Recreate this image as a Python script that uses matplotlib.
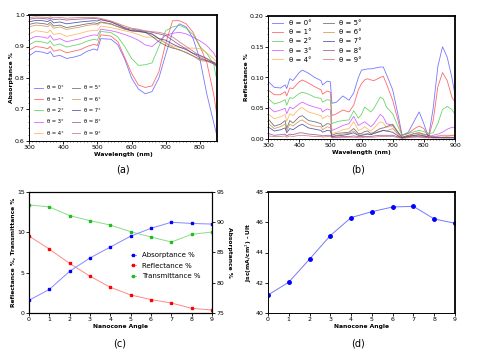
import matplotlib
matplotlib.use("Agg")
import matplotlib.pyplot as plt
from matplotlib.ticker import MultipleLocator

# ---------------- data ----------------
angles = [0, 1, 2, 3, 4, 5, 6, 7, 8, 9]
labels_theta = [f"θ = {a}°" for a in angles]
couleurs = ["#5555ff", "#ff4444", "#44cc44", "#cc44ff", "#ffaa44",
            "#555555", "#cc8844", "#333399", "#884488", "#cc6666"]

wl_a = [300, 320, 340, 355, 362, 372, 390, 410, 430, 450, 470, 490, 500, 510, 540, 560,
        580, 600, 620, 640, 660, 680, 700, 720, 740, 760, 780, 800, 820, 840, 850]
abs_0 = [.870, .885, .882, .877, .884, .868, .872, .862, .866, .872, .885, .892, .888, .925, .923, .905,
         .860, .800, .765, .750, .757, .800, .875, .945, .972, .962, .925, .860, .750, .660, .615]
abs_1 = [.888, .900, .897, .893, .900, .885, .890, .880, .885, .890, .900, .907, .903, .937, .933, .915,
         .865, .815, .778, .770, .775, .820, .910, .982, .982, .972, .945, .900, .850, .750, .680]
abs_2 = [.905, .917, .914, .910, .918, .903, .908, .898, .903, .908, .917, .923, .920, .948, .944, .930,
         .900, .862, .840, .842, .848, .900, .950, .962, .967, .958, .938, .900, .878, .845, .790]
abs_3 = [.922, .932, .930, .926, .935, .920, .925, .915, .920, .925, .932, .937, .935, .955, .950, .945,
         .938, .930, .920, .905, .900, .918, .935, .942, .945, .940, .930, .918, .903, .880, .860]
abs_4 = [.940, .950, .947, .944, .952, .938, .942, .932, .937, .942, .948, .952, .950, .965, .960, .955,
         .950, .945, .938, .930, .930, .925, .912, .902, .897, .895, .895, .893, .880, .862, .850]
abs_5 = [.970, .975, .973, .970, .977, .965, .968, .960, .964, .968, .972, .975, .973, .978, .972, .963,
         .955, .950, .950, .945, .932, .915, .903, .895, .890, .880, .870, .860, .855, .850, .845]
abs_6 = [.962, .968, .966, .963, .970, .958, .962, .954, .958, .962, .967, .970, .968, .976, .970, .963,
         .956, .950, .947, .944, .938, .925, .910, .898, .888, .882, .870, .855, .853, .846, .840]
abs_7 = [.978, .983, .982, .979, .985, .975, .978, .972, .975, .978, .980, .982, .981, .985, .978, .968,
         .958, .950, .948, .945, .940, .925, .920, .908, .898, .890, .878, .872, .862, .848, .840]
abs_8 = [.986, .990, .989, .987, .990, .985, .987, .984, .986, .987, .988, .989, .988, .986, .978, .970,
         .960, .955, .952, .948, .945, .940, .935, .920, .905, .892, .878, .865, .855, .845, .835]
abs_9 = [.992, .994, .993, .992, .994, .991, .992, .990, .991, .992, .992, .992, .991, .989, .981, .973,
         .965, .958, .955, .950, .947, .945, .940, .930, .915, .900, .885, .870, .860, .850, .840]
absorptance = [abs_0, abs_1, abs_2, abs_3, abs_4, abs_5, abs_6, abs_7, abs_8, abs_9]

wl_b = [300, 320, 340, 355, 360, 370, 380, 400, 410, 430, 450, 470, 475, 490, 500, 505, 520, 540,
        560, 575, 590, 600, 610, 620, 630, 640, 660, 670, 680, 700, 720, 730, 750, 770, 785, 800,
        815, 830, 845, 860, 875, 890, 900]
ref_0 = [.094, .084, .083, .088, .082, .098, .095, .108, .112, .107, .100, .095, .088, .094, .093, .058, .060, .070,
         .063, .075, .100, .112, .113, .114, .114, .115, .117, .117, .105, .080, .033, .006, .011, .030, .044, .025,
         .003, .050, .118, .150, .133, .100, .072]
ref_1 = [.080, .072, .072, .077, .070, .083, .082, .093, .096, .091, .085, .080, .073, .078, .076, .038, .041, .047,
         .044, .055, .080, .090, .096, .098, .096, .095, .100, .102, .090, .063, .025, .006, .009, .017, .021, .017,
         .003, .030, .085, .108, .095, .068, .060]
ref_2 = [.066, .057, .060, .064, .055, .067, .066, .074, .076, .073, .068, .066, .060, .064, .063, .025, .028, .030,
         .031, .046, .034, .040, .052, .048, .044, .050, .068, .065, .052, .041, .017, .006, .009, .012, .014, .012,
         .009, .010, .025, .048, .053, .048, .040]
ref_3 = [.053, .044, .047, .050, .041, .052, .049, .057, .060, .055, .052, .049, .044, .049, .047, .014, .017, .022,
         .025, .037, .022, .025, .028, .024, .020, .025, .040, .036, .025, .022, .009, .003, .005, .006, .006, .004,
         .004, .006, .008, .011, .016, .019, .019]
ref_4 = [.041, .033, .036, .040, .029, .041, .038, .049, .051, .044, .041, .038, .033, .038, .036, .009, .011, .015,
         .017, .028, .014, .016, .020, .016, .013, .018, .028, .026, .019, .021, .006, .002, .004, .006, .006, .004,
         .003, .003, .003, .003, .004, .006, .006]
ref_5 = [.033, .021, .024, .030, .017, .030, .026, .036, .038, .030, .028, .025, .020, .025, .024, .006, .009, .010,
         .011, .017, .009, .009, .012, .013, .009, .011, .017, .018, .020, .024, .009, .003, .006, .009, .010, .008,
         .006, .003, .003, .002, .002, .002, .002]
ref_6 = [.026, .017, .020, .024, .013, .024, .021, .029, .031, .024, .021, .020, .015, .020, .018, .004, .006, .008,
         .009, .013, .007, .006, .008, .009, .007, .010, .013, .014, .013, .017, .006, .002, .005, .009, .010, .006,
         .004, .003, .003, .003, .003, .003, .003]
ref_7 = [.020, .013, .015, .018, .010, .017, .015, .022, .024, .018, .016, .014, .011, .014, .013, .004, .005, .006,
         .008, .010, .006, .006, .007, .008, .007, .009, .012, .014, .013, .011, .004, .002, .004, .006, .007, .005,
         .003, .002, .002, .002, .002, .002, .002]
ref_8 = [.009, .006, .007, .008, .005, .008, .007, .010, .010, .008, .007, .006, .005, .006, .006, .003, .003, .004,
         .004, .005, .004, .004, .004, .004, .004, .005, .006, .006, .006, .006, .003, .002, .003, .004, .004, .003,
         .002, .002, .002, .002, .002, .002, .002]
ref_9 = [.005, .004, .004, .005, .003, .005, .004, .006, .006, .005, .004, .004, .003, .004, .004, .002, .002, .002,
         .003, .003, .002, .002, .003, .003, .003, .003, .004, .004, .004, .004, .002, .001, .002, .003, .003, .002,
         .002, .004, .005, .006, .006, .006, .006]
reflectance = [ref_0, ref_1, ref_2, ref_3, ref_4, ref_5, ref_6, ref_7, ref_8, ref_9]

cone = [0, 1, 2, 3, 4, 5, 6, 7, 8, 9]
c_abs = [77.1, 78.9, 81.9, 84.1, 85.9, 87.7, 89.0, 90.0, 89.8, 89.7]
c_ref = [9.54, 7.92, 6.14, 4.56, 3.19, 2.24, 1.66, 1.24, 0.58, 0.37]
c_tra = [13.4, 13.15, 12.07, 11.45, 10.9, 10.08, 9.42, 8.8, 9.75, 10.04]
jsc = [41.19, 42.04, 43.56, 45.12, 46.31, 46.70, 47.01, 47.05, 46.22, 45.93]

# ---------------- figure ----------------
W, H = 478, 354
fig = plt.figure(figsize=(W / 100, H / 100), dpi=100)
plt.rcParams['font.family'] = ['DejaVu Sans']

def boite(l, t, r, b):
    return fig.add_axes([l / W, 1 - b / H, (r - l) / W, (b - t) / H])

def style(ax, fort=1.3, fin=0.7):
    ax.spines['top'].set_linewidth(fort)
    ax.spines['right'].set_linewidth(fort)
    ax.spines['left'].set_linewidth(fin)
    ax.spines['bottom'].set_linewidth(fin)
    ax.tick_params(which='major', labelsize=4.5, length=2, width=0.6, pad=1)
    ax.tick_params(which='minor', length=1, width=0.4)

# (a)
ax = boite(29, 15, 217, 141)
for y, c, lab in zip(absorptance, couleurs, labels_theta):
    ax.plot(wl_a, y, color=c, lw=0.6, alpha=0.8, label=lab)
ax.set_xlim(300, 850)
ax.set_ylim(0.6, 1.0)
ax.xaxis.set_major_locator(MultipleLocator(100))
ax.xaxis.set_minor_locator(MultipleLocator(10))
ax.yaxis.set_major_locator(MultipleLocator(0.1))
ax.yaxis.set_minor_locator(MultipleLocator(0.02))
ax.set_yticklabels([f"{v:.1f}" for v in ax.get_yticks()])
ax.set_xlabel("Wavelength (nm)", fontsize=4.3, fontweight='bold', labelpad=1)
ax.set_ylabel("Absorptance %", fontsize=4.3, fontweight='bold', labelpad=1)
style(ax)
ax.legend(ncol=2, loc='lower left', fontsize=3.8, frameon=False, handlelength=1.6,
          columnspacing=1.5, labelspacing=1.2, borderaxespad=0.6)
fig.text(123 / W, 1 - 170 / H, "(a)", ha='center', va='center', fontsize=7)

# (b)
ax = boite(268, 16, 455, 139)
for y, c, lab in zip(reflectance, couleurs, labels_theta):
    ax.plot(wl_b, y, color=c, lw=0.6, alpha=0.8, label=lab)
ax.set_xlim(300, 900)
ax.set_ylim(0, 0.20)
ax.xaxis.set_major_locator(MultipleLocator(100))
ax.xaxis.set_minor_locator(MultipleLocator(10))
ax.yaxis.set_major_locator(MultipleLocator(0.05))
ax.yaxis.set_minor_locator(MultipleLocator(0.01))
ax.set_yticklabels([f"{v:.2f}" for v in ax.get_yticks()])
ax.set_xlabel("Wavelength (nm)", fontsize=4.3, fontweight='bold', labelpad=1)
ax.set_ylabel("Reflectance %", fontsize=4.3, fontweight='bold', labelpad=1)
style(ax)
ax.legend(ncol=2, loc='upper left', fontsize=5, frameon=False, handlelength=1.6,
          columnspacing=1.6, labelspacing=0.45, borderaxespad=0.2)
fig.text(358 / W, 1 - 170 / H, "(b)", ha='center', va='center', fontsize=7)

# (c)
ax = boite(29, 192, 212, 313)
ax2 = ax.twinx()
l1, = ax2.plot(cone, c_abs, color='#8888ff', lw=0.7, marker='s', ms=2,
               mfc='#0000ff', mec='#0000ff', label="Absorptance %")
l2, = ax.plot(cone, c_ref, color='#ff8888', lw=0.7, marker='s', ms=2,
              mfc='#ff0000', mec='#ff0000', label="Reflectance %")
l3, = ax.plot(cone, c_tra, color='#88dd88', lw=0.7, marker='s', ms=2,
              mfc='#22bb22', mec='#22bb22', label="Transmittance %")
ax.set_xlim(0, 9)
ax.set_ylim(0, 15)
ax2.set_ylim(75, 95)
ax.xaxis.set_major_locator(MultipleLocator(1))
ax.yaxis.set_major_locator(MultipleLocator(5))
ax2.yaxis.set_major_locator(MultipleLocator(5))
ax.set_xlabel("Nanocone Angle", fontsize=4.3, fontweight='bold', labelpad=1)
ax.set_ylabel("Reflectance %, Transmittance %", fontsize=4.3, fontweight='bold', labelpad=1)
ax2.set_ylabel("Absorptance %", fontsize=4.3, fontweight='bold', rotation=270, labelpad=6)
style(ax, 0.8, 0.8)
style(ax2, 0.8, 0.8)
ax.legend([l1, l2, l3], [l1.get_label(), l2.get_label(), l3.get_label()],
          loc='center right', bbox_to_anchor=(0.97, 0.39), fontsize=5, frameon=False,
          handlelength=0.8, labelspacing=0.65)
fig.text(120 / W, 1 - 343 / H, "(c)", ha='center', va='center', fontsize=7)

# (d)
ax = boite(268, 192, 455, 313)
ax.plot(cone, jsc, color='#7777ff', lw=0.7, marker='o', ms=2.5, mfc='#0000ff', mec='#0000ff')
ax.set_xlim(0, 9)
ax.set_ylim(40, 48)
ax.xaxis.set_major_locator(MultipleLocator(1))
ax.yaxis.set_major_locator(MultipleLocator(2))
ax.set_xlabel("Nanocone Angle", fontsize=4.3, fontweight='bold', labelpad=1)
ax.set_ylabel("Jsc(mA/cm$^2$) - Ult", fontsize=4.3, fontweight='bold', labelpad=1)
style(ax)
fig.text(358 / W, 1 - 343 / H, "(d)", ha='center', va='center', fontsize=7)

fig.savefig("out.png", dpi=100)
